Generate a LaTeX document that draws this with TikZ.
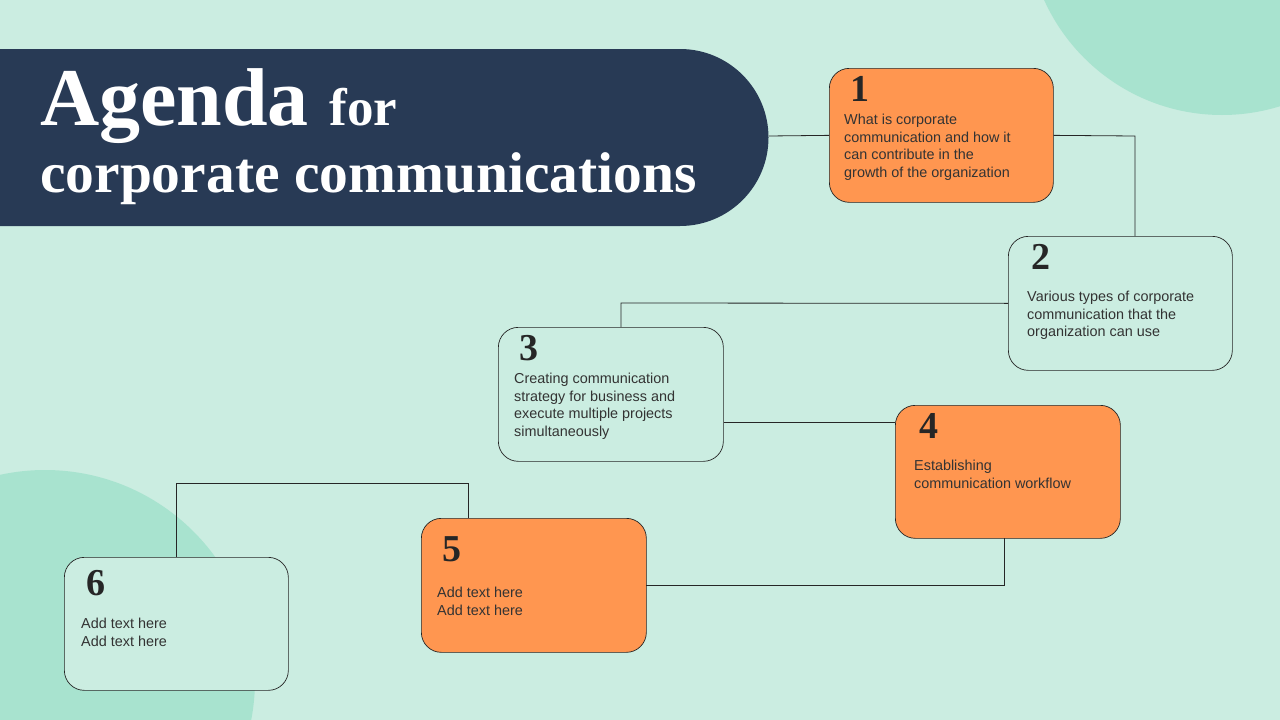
\documentclass[tikz,border=0pt]{standalone}
\usepackage{fontspec}
\setmainfont{Liberation Serif}
\newfontfamily\boxfont{Liberation Sans}
\definecolor{bgc}{HTML}{CBEDE1}
\definecolor{circc}{HTML}{A8E3CF}
\definecolor{navy}{HTML}{283A55}
\definecolor{orng}{HTML}{FF9650}
\definecolor{txt}{HTML}{333333}
\begin{document}
\begin{tikzpicture}[x=1pt,y=-1pt,
  card/.style={draw=black!85,line width=0.7pt,rounded corners=20pt},
  num/.style={anchor=north west,font=\bfseries\fontsize{38}{40}\selectfont,text=black!85,inner sep=0},
  desc/.style={anchor=north west,align=left,font=\boxfont\fontsize{14.4}{17.5}\selectfont,text=txt,inner sep=0},
  link/.style={draw=black!85,line width=0.8pt}]
\fill[bgc] (0,0) rectangle (1280,720);
\useasboundingbox (0,0) rectangle (1280,720);
\begin{scope}
\clip (0,0) rectangle (1280,720);
\fill[circc] (1222,-80) circle[radius=195];
\fill[circc] (45,680) circle[radius=210];
\end{scope}
% banner
\fill[navy] (0,49) -- (680,49) arc[start angle=-90,end angle=90,radius=88.5] -- (0,226) -- cycle;
\coordinate (ban) at (768.5,136);
\node[anchor=base west,text=white,inner sep=0] (t1) at (40,125) {\bfseries\fontsize{82}{82}\selectfont Agenda \fontsize{53}{53}\selectfont for};
\node[anchor=base west,text=white,inner sep=0] (t2) at (40,192) {\bfseries\fontsize{57.5}{57.5}\selectfont corporate communications};
% cards
\node[card,fill=orng,minimum width=224,minimum height=134,anchor=north west] (b1) at (829,68) {};
\node[card,fill=bgc,minimum width=224,minimum height=134,anchor=north west] (b2) at (1008,236) {};
\node[card,fill=bgc,minimum width=225,minimum height=134,anchor=north west] (b3) at (498,327) {};
\node[card,fill=orng,minimum width=225,minimum height=133,anchor=north west] (b4) at (895,405) {};
\node[card,fill=orng,minimum width=225,minimum height=134,anchor=north west] (b5) at (421,518) {};
\node[card,fill=bgc,minimum width=224,minimum height=133,anchor=north west] (b6) at (64,557) {};
% numbers
\node[num] (n1) at (850,76) {1};
\node[num] (n2) at (1031,244) {2};
\node[num] (n3) at (519,335) {3};
\node[num] (n4) at (919,413) {4};
\node[num] (n5) at (442,536) {5};
\node[num] (n6) at (86,570) {6};
% texts
\node[desc] (d1) at (844,114) {What is corporate\\communication and how it\\can contribute in the\\growth of the organization};
\node[desc] (d2) at (1027,291) {Various types of corporate\\communication that the\\organization can use};
\node[desc] (d3) at (514,373) {Creating communication\\strategy for business and\\execute multiple projects\\simultaneously};
\node[desc] (d4) at (914,460) {Establishing\\communication workflow};
\node[desc] (d5) at (437,587) {Add text here\\Add text here};
\node[desc] (d6) at (81,618) {Add text here\\Add text here};
% connectors
\draw[link] (ban) -- (b1.west);
\draw[link] (b1.east) -- (1135,136) -- (1135,236);
\draw[link] (b2.west) -- (621,303) -- (621,327);
\draw[link] (b3.east |- 0,422) -- (b4.west |- 0,422);
\draw[link] (1004,538) -- (1004,585) -- (646,585);
\draw[link] (468,518) -- (468,483) -- (176,483) -- (176,557);
\end{tikzpicture}
\end{document}
